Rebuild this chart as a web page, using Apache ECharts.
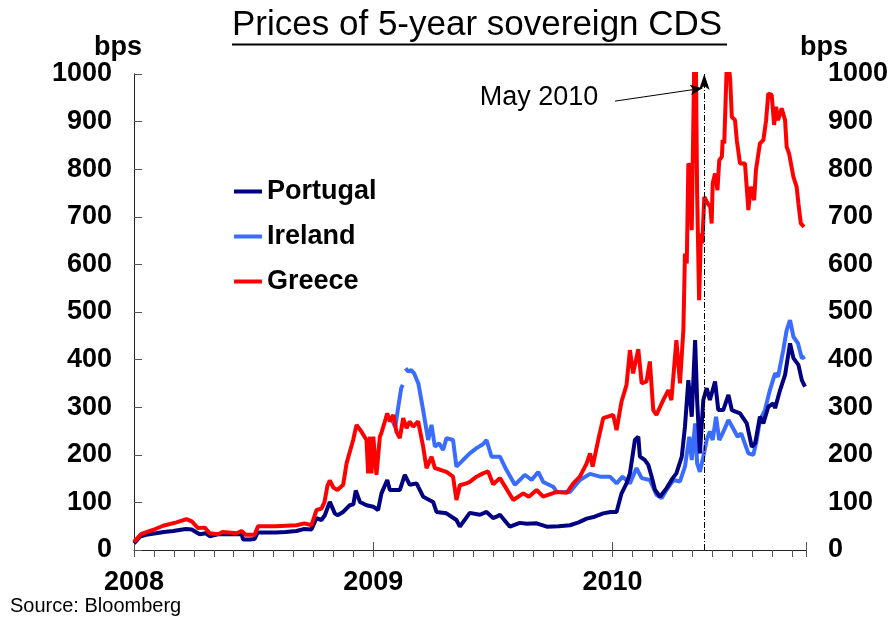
<!DOCTYPE html>
<html>
<head>
<meta charset="utf-8">
<script src="https://cdn.jsdelivr.net/npm/echarts@6/dist/echarts.min.js"></script>
<style>
  html, body { margin: 0; padding: 0; background: #fff; }
  #chart { width: 895px; height: 622px; }
</style>
</head>
<body>
<div id="chart"></div>
<script>
// x values are months since Jan 2008
const yearLabels = ['2008', '2009', '2010']

const portugalMonths = [0, 0.3, 0.6, 1.1, 1.5, 1.96, 2.6, 2.9, 3.1, 3.3, 3.6, 3.8, 4.2, 4.8, 5.4, 5.47, 5.8, 6.05, 6.2, 7.1, 7.6, 8.15, 8.5, 8.9, 9.15, 9.4, 9.57, 9.82, 10.07, 10.2, 10.49, 10.82, 11.0, 11.12, 11.33, 11.66, 12.0, 12.24, 12.41, 12.7, 12.83, 13.33, 13.58, 13.83, 14.17, 14.5, 15.0, 15.17, 15.67, 16.17, 16.34, 16.84, 17.35, 17.68, 18.01, 18.18, 18.35, 18.85, 19.35, 19.7, 20.19, 20.7, 21.3, 21.86, 22.3, 22.7, 23.1, 23.53, 23.9, 24.2, 24.45, 24.7, 24.87, 25.12, 25.29, 25.37, 25.62, 25.79, 25.96, 26.13, 26.38, 26.71, 27.0, 27.2, 27.47, 27.63, 27.8, 27.97, 28.14, 28.24, 28.38, 28.55, 28.72, 28.88, 29.14, 29.3, 29.55, 29.81, 29.98, 30.39, 30.73, 30.98, 31.15, 31.39, 31.56, 31.81, 32.06, 32.15, 32.4, 32.65, 32.9, 33.07, 33.32, 33.49, 33.65]
const portugalBps = [14, 28, 32, 35, 38, 40, 44, 43, 38, 33, 35, 29, 33, 33, 33, 22, 22, 23, 37, 37, 38, 40, 44, 43, 67, 63, 73, 101, 77, 73, 80, 94, 96, 125, 101, 94, 91, 84, 119, 147, 126, 126, 158, 137, 140, 112, 101, 80, 77, 63, 49, 78, 74, 80, 67, 70, 74, 49, 57, 55, 56, 49, 50, 52, 58, 66, 70, 77, 80, 80, 119, 140, 161, 231, 238, 196, 189, 179, 154, 126, 112, 130, 150, 161, 196, 259, 357, 280, 441, 315, 203, 315, 340, 315, 354, 294, 294, 326, 294, 287, 266, 217, 224, 280, 266, 301, 308, 298, 336, 368, 434, 403, 389, 357, 343]

const irelandMonths = [12.98, 13.1, 13.25, 13.4, 13.48, 13.54, 13.62, 13.75, 13.9, 14.05, 14.26, 14.5, 14.75, 14.92, 15.09, 15.3, 15.5, 15.67, 16.0, 16.17, 16.5, 16.84, 17.18, 17.5, 17.68, 17.93, 18.35, 18.68, 19.1, 19.6, 19.94, 20.27, 20.52, 21.02, 21.2, 21.86, 22.36, 22.87, 23.37, 23.87, 24.2, 24.5, 24.87, 25.2, 25.46, 25.87, 26.2, 26.46, 26.7, 27.05, 27.38, 27.63, 27.85, 27.97, 28.14, 28.24, 28.38, 28.55, 28.72, 28.88, 29.02, 29.19, 29.35, 29.52, 29.81, 30.0, 30.27, 30.45, 30.81, 31.06, 31.23, 31.39, 31.64, 31.89, 32.15, 32.3, 32.56, 32.73, 32.9, 33.07, 33.3, 33.49, 33.65]
const irelandBps = [270, 258, 300, 340, 347, null, 382, 375, 378, 371, 350, 294, 231, 263, 217, 224, 210, 235, 231, 175, 189, 203, 214, 222, 231, 196, 196, 168, 137, 158, 147, 164, 143, 133, 122, 122, 147, 160, 154, 154, 140, 154, 140, 172, 151, 147, 116, 109, 126, 147, 144, 175, 238, 189, 266, 182, 164, 196, 231, 249, 231, 280, 231, 245, 273, 259, 238, 245, 203, 200, 231, 273, 294, 336, 371, 364, 420, 462, 483, 448, 434, 403, 406]

const greeceMonths = [0, 0.37, 0.95, 1.46, 2.13, 2.63, 2.9, 3.21, 3.55, 3.8, 4.2, 4.47, 5.13, 5.39, 5.6, 6.05, 6.22, 7.1, 8.15, 8.55, 8.9, 9.15, 9.4, 9.55, 9.7, 9.82, 10.0, 10.2, 10.49, 10.66, 10.82, 10.99, 11.16, 11.4, 11.66, 11.74, 11.83, 11.91, 12.0, 12.16, 12.33, 12.4, 12.58, 12.7, 12.83, 13.0, 13.16, 13.33, 13.5, 13.67, 13.83, 14.0, 14.25, 14.5, 14.67, 14.92, 15.09, 15.4, 15.67, 16.0, 16.17, 16.34, 16.67, 16.84, 17.18, 17.5, 17.76, 18.01, 18.35, 19.02, 19.52, 19.8, 20.19, 20.52, 21.2, 21.7, 22.03, 22.36, 22.7, 22.87, 23.0, 23.28, 23.53, 24.03, 24.2, 24.45, 24.7, 24.87, 25.03, 25.29, 25.46, 25.7, 25.87, 26.04, 26.2, 26.54, 26.8, 26.95, 27.2, 27.38, 27.55, 27.63, 27.72, 27.8, 27.88, 27.97, 28.05, 28.1, 28.18, 28.24, 28.34, 28.43, 28.5, 28.6, 28.77, 28.9, 28.97, 29.02, 29.14, 29.26, 29.35, 29.48, 29.52, 29.6, 29.72, 29.8, 29.9, 29.98, 30.14, 30.23, 30.39, 30.64, 30.81, 30.93, 31.1, 31.19, 31.39, 31.56, 31.7, 31.81, 31.98, 32.1, 32.2, 32.3, 32.48, 32.65, 32.73, 32.85, 33.07, 33.23, 33.32, 33.44, 33.6]
const greeceBps = [17, 34, 42, 51, 58, 65, 60, 46, 47, 35, 33, 38, 35, 40, 32, 32, 50, 50, 52, 56, 52, 84, 87, 100, 135, 146, 131, 126, 137, 182, 206, 231, 263, 249, 231, 161, 238, 161, 238, 158, 238, 245, 270, 287, 270, 284, 249, 235, 277, 256, 270, 259, 270, 217, 172, 196, 172, 168, 164, 154, 105, 136, 140, 143, 154, 161, 165, 138, 151, 105, 119, 112, 126, 112, 122, 120, 140, 154, 182, 203, 175, 231, 277, 284, 252, 312, 347, 420, 371, 422, 350, 354, 396, 294, 284, 315, 336, 315, 441, 350, 462, 623, 602, 812, 805, 672, 672, 1040, 1020, 749, 525, 665, 644, 742, 728, 721, 686, 770, 791, 756, 819, 826, 861, 854, 1010, 1030, 987, 910, 903, 861, 812, 812, 714, 763, 735, 798, 854, 861, 903, 959, 956, 893, 931, 903, 928, 903, 847, 833, 784, 763, 728, 686, 679]

const mayLine = 28.6
const arrowFrom = [24.12, 943]
const arrowTo = [28.5, 970]

const pairs = (xs, ys) => xs.map((x, i) => [x, ys[i]])

const font = 'Liberation Sans, Arial, sans-serif'
const boldLabel = { color: '#000', fontSize: 27, fontWeight: 'bold', fontFamily: font }

const chart = echarts.init(document.getElementById('chart'))

const yAxisBase = {
    type: 'value',
    min: 0,
    max: 1000,
    interval: 100,
    axisLine: { show: true, lineStyle: { color: '#222', width: 1 } },
    axisTick: { show: true, length: 8, lineStyle: { color: '#555' } },
    axisLabel: { ...boldLabel, margin: 22, formatter: v => String(v) },
    splitLine: { show: false }
}

const option = {
    animation: false,
    backgroundColor: '#fff',
    title: {
        text: 'Prices of 5-year sovereign CDS',
        left: 232,
        top: 8,
        padding: 0,
        textStyle: { color: '#000', fontSize: 35, fontWeight: 'normal', fontFamily: font }
    },
    legend: {
        data: ['Portugal', 'Ireland', 'Greece'],
        orient: 'vertical',
        left: 229,
        top: 173,
        itemGap: 18,
        itemWidth: 28,
        itemHeight: 4,
        icon: 'rect',
        textStyle: boldLabel
    },
    grid: { left: 134, right: 89, top: 74, bottom: 72 },
    xAxis: [
        {
            type: 'value',
            min: 0,
            max: 33.7,
            interval: 1,
            axisLine: { show: true, lineStyle: { color: '#222', width: 1 } },
            axisTick: { show: true, length: 7, lineStyle: { color: '#555' } },
            axisLabel: {
                ...boldLabel,
                margin: 19,
                formatter: v => (Math.round(v) === v && v % 12 === 0) ? yearLabels[v / 12] : ''
            },
            splitLine: { show: false }
        },
        {
            type: 'value',
            position: 'bottom',
            min: 0,
            max: 33.7,
            interval: 12,
            axisLine: { show: false },
            axisTick: { show: true, inside: true, length: 8, lineStyle: { color: '#555' } },
            axisLabel: { show: false },
            splitLine: { show: false }
        }
    ],
    yAxis: [
        { ...yAxisBase, position: 'left', axisTick: { ...yAxisBase.axisTick, inside: true } },
        { ...yAxisBase, position: 'right' }
    ],
    graphic: [
        { type: 'line', shape: { x1: 232, y1: 44.5, x2: 727, y2: 44.5 }, style: { stroke: '#000', lineWidth: 2 } },
        { type: 'text', x: 118, y: 47.5, style: { text: 'bps', fill: '#000', font: 'bold 27px ' + font, textAlign: 'center', textVerticalAlign: 'middle' } },
        { type: 'text', x: 824, y: 47.5, style: { text: 'bps', fill: '#000', font: 'bold 27px ' + font, textAlign: 'center', textVerticalAlign: 'middle' } },
        { type: 'text', x: 539, y: 98, style: { text: 'May 2010', fill: '#000', font: 'normal 27px ' + font, textAlign: 'center', textVerticalAlign: 'middle' } },
        { type: 'text', x: 10, y: 606, style: { text: 'Source: Bloomberg', fill: '#000', font: 'normal 20px ' + font, textAlign: 'left', textVerticalAlign: 'middle' } }
    ],
    series: [
        {
            name: 'Ireland',
            type: 'line',
            data: pairs(irelandMonths, irelandBps),
            showSymbol: false,
            connectNulls: false,
            color: '#3a6cff',
            lineStyle: { width: 4, color: '#3a6cff' }
        },
        {
            name: 'Portugal',
            type: 'line',
            data: pairs(portugalMonths, portugalBps),
            showSymbol: false,
            color: '#000080',
            lineStyle: { width: 4, color: '#000080' }
        },
        {
            name: 'Greece',
            type: 'line',
            data: pairs(greeceMonths, greeceBps),
            showSymbol: false,
            color: '#ff0000',
            lineStyle: { width: 4, color: '#ff0000' },
            markLine: {
                silent: true,
                label: { show: false },
                data: [
                    { xAxis: mayLine, symbol: 'none', lineStyle: { type: [6, 2, 1, 2], color: '#000', width: 1 } },
                    [
                        { coord: arrowFrom, symbol: 'none' },
                        { coord: arrowTo, symbol: 'arrow', symbolSize: [8, 12] }
                    ]
                ],
                lineStyle: { color: '#000', width: 1, type: 'solid' }
            }
        }
    ]
}

chart.setOption(option)
</script>
</body>
</html>
